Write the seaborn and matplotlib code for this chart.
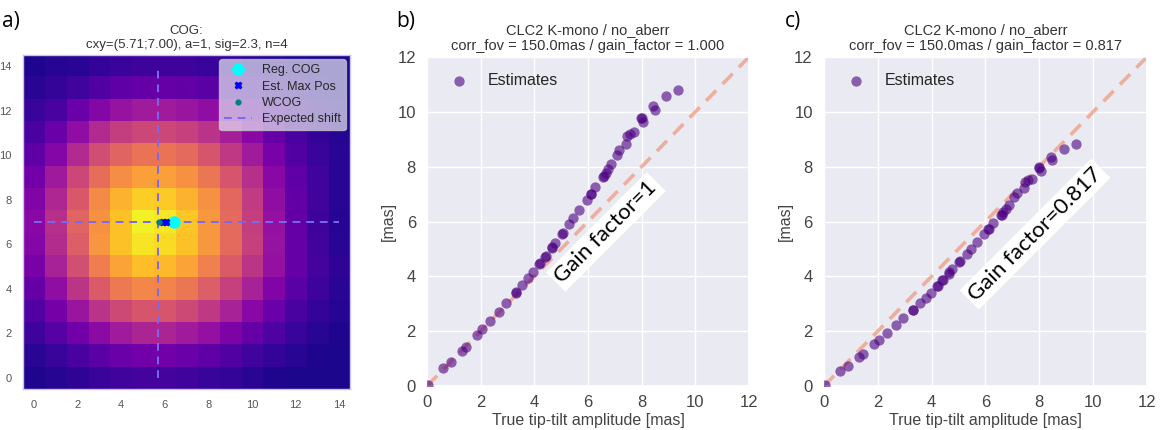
import numpy as np
import pandas as pd
import matplotlib
matplotlib.use("Agg")
import matplotlib.pyplot as plt
import seaborn as sns

# ---------------- data ----------------
# Panel a: 15x15 image (rows listed from y=0 at bottom to y=14 at top)
img_rows = [
    [0.03, 0.04, 0.06, 0.08, 0.10, 0.11, 0.11, 0.10, 0.08, 0.07, 0.05, 0.03, 0.02, 0.02, 0.02],
    [0.05, 0.08, 0.12, 0.16, 0.20, 0.22, 0.22, 0.20, 0.17, 0.14, 0.10, 0.07, 0.05, 0.03, 0.02],
    [0.09, 0.15, 0.22, 0.29, 0.35, 0.38, 0.38, 0.35, 0.31, 0.25, 0.19, 0.13, 0.08, 0.05, 0.03],
    [0.14, 0.23, 0.33, 0.43, 0.51, 0.55, 0.55, 0.51, 0.45, 0.37, 0.28, 0.20, 0.12, 0.07, 0.04],
    [0.19, 0.30, 0.44, 0.57, 0.67, 0.71, 0.70, 0.66, 0.58, 0.48, 0.37, 0.26, 0.16, 0.09, 0.05],
    [0.24, 0.37, 0.53, 0.68, 0.79, 0.86, 0.85, 0.79, 0.69, 0.57, 0.44, 0.31, 0.19, 0.11, 0.06],
    [0.27, 0.41, 0.58, 0.75, 0.87, 0.95, 0.93, 0.87, 0.76, 0.62, 0.48, 0.32, 0.19, 0.10, 0.05],
    [0.28, 0.42, 0.60, 0.74, 0.87, 0.98, 0.96, 0.88, 0.76, 0.62, 0.47, 0.31, 0.18, 0.09, 0.04],
    [0.26, 0.39, 0.56, 0.72, 0.83, 0.90, 0.89, 0.83, 0.74, 0.61, 0.46, 0.30, 0.18, 0.10, 0.05],
    [0.22, 0.34, 0.50, 0.63, 0.73, 0.78, 0.78, 0.74, 0.66, 0.55, 0.42, 0.28, 0.17, 0.10, 0.05],
    [0.17, 0.27, 0.40, 0.52, 0.60, 0.65, 0.65, 0.62, 0.55, 0.45, 0.35, 0.24, 0.14, 0.08, 0.05],
    [0.12, 0.20, 0.30, 0.40, 0.47, 0.50, 0.50, 0.48, 0.43, 0.36, 0.28, 0.19, 0.12, 0.07, 0.04],
    [0.08, 0.12, 0.20, 0.27, 0.32, 0.35, 0.35, 0.33, 0.30, 0.25, 0.20, 0.14, 0.09, 0.05, 0.03],
    [0.05, 0.07, 0.10, 0.14, 0.17, 0.19, 0.19, 0.18, 0.16, 0.13, 0.10, 0.07, 0.05, 0.03, 0.02],
    [0.03, 0.04, 0.05, 0.07, 0.08, 0.09, 0.09, 0.09, 0.08, 0.07, 0.05, 0.04, 0.03, 0.02, 0.02],
]
expected_shift = (5.71, 7.00)
shift_span = [0.0, 14.0]
reg_cog = (6.44, 7.00)
est_max_x = [5.92, 6.05]
est_max_y = [7.00, 7.00]
wcog = (5.74, 7.00)
title_a = "COG:\ncxy=(5.71;7.00), a=1, sig=2.3, n=4"

# Panels b and c: true amplitude vs estimate
true_amp = [0.02, 0.61, 0.89, 1.29, 1.44, 1.85, 2.04, 2.36, 2.68, 2.94, 3.30, 3.32,
            3.55, 3.78, 3.96, 4.19, 4.22, 4.40, 4.42, 4.65, 4.65, 4.77, 5.02, 5.05,
            5.30, 5.45, 5.68, 5.95, 6.11, 6.13, 6.27, 6.57, 6.60, 6.67, 6.76, 6.86,
            7.07, 7.17, 7.42, 7.47, 7.57, 7.73, 7.98, 8.00, 8.06, 8.44, 8.49, 8.90, 9.37]
est_b = [0.04, 0.65, 0.89, 1.28, 1.43, 1.86, 2.07, 2.37, 2.71, 3.02, 3.40, 3.42,
         3.68, 3.93, 4.15, 4.44, 4.47, 4.72, 4.74, 5.02, 5.08, 5.20, 5.54, 5.57,
         5.91, 6.12, 6.42, 6.78, 7.00, 7.02, 7.27, 7.61, 7.65, 7.76, 7.90, 8.10,
         8.42, 8.61, 8.83, 9.12, 9.18, 9.25, 9.76, 9.78, 9.62, 10.22, 10.07, 10.59, 10.80]
est_c = [0.03, 0.53, 0.73, 1.05, 1.17, 1.52, 1.69, 1.94, 2.21, 2.47, 2.78, 2.79,
         3.01, 3.21, 3.39, 3.63, 3.65, 3.86, 3.87, 4.10, 4.15, 4.25, 4.53, 4.55,
         4.83, 5.00, 5.25, 5.54, 5.72, 5.74, 5.94, 6.22, 6.25, 6.34, 6.45, 6.62,
         6.88, 7.03, 7.21, 7.45, 7.50, 7.56, 7.97, 7.99, 7.86, 8.35, 8.23, 8.65, 8.82]
diag = [0, 12]
titles_bc = ["CLC2 K-mono / no_aberr\ncorr_fov = 150.0mas / gain_factor = 1.000",
             "CLC2 K-mono / no_aberr\ncorr_fov = 150.0mas / gain_factor = 0.817"]
gain_labels = ["Gain factor=1", "Gain factor=0.817"]
gain_label_pos = [(6.67, 5.62), (7.84, 5.54)]
panel_letters = ["a)", "b)", "c)"]
ticks_a = [0, 2, 4, 6, 8, 10, 12, 14]
ticks_bc = [0, 2, 4, 6, 8, 10, 12]

# ---------------- style ----------------
sns.set_theme(style="darkgrid")
plt.rcParams["font.family"] = ["Liberation Sans", "DejaVu Sans"]

fig = plt.figure(figsize=(11.61, 4.30), dpi=100)

# ---------------- panel a ----------------
ax_a = fig.add_axes([0.0198, 0.0953, 0.2817, 0.777])
ax_a.imshow(np.array(img_rows), cmap="plasma", origin="lower", vmin=0, vmax=1,
            extent=(-0.5, 14.5, -0.5, 14.5), aspect="auto", interpolation="nearest")
ax_a.grid(False)
ax_a.plot([expected_shift[0]] * 2, shift_span, ls="--", color="mediumslateblue",
          lw=1.4, dashes=(4, 3), label="Expected shift", zorder=3)
ax_a.plot(shift_span, [expected_shift[1]] * 2, ls="--", color="mediumslateblue",
          lw=1.4, dashes=(4, 3), zorder=3)
ax_a.plot([reg_cog[0]], [reg_cog[1]], "o", color="cyan", ms=8, label="Reg. COG", zorder=4)
ax_a.plot(est_max_x, est_max_y, "X", color="blue", ms=5, ls="none", label="Est. Max Pos", zorder=5)
ax_a.plot([wcog[0]], [wcog[1]], "o", color="teal", ms=3.5, label="WCOG", zorder=6)
ax_a.set_xlim(-0.5, 14.5)
ax_a.set_ylim(-0.5, 14.5)
ax_a.set_xticks(ticks_a)
ax_a.set_yticks(ticks_a)
ax_a.tick_params(labelsize=8, colors="#555555", pad=2)
for s in ax_a.spines.values():
    s.set_visible(True)
    s.set_color("#c9c3ee")
    s.set_linewidth(1.0)
h, l = ax_a.get_legend_handles_labels()
order = [l.index(n) for n in ["Reg. COG", "Est. Max Pos", "WCOG", "Expected shift"]]
ax_a.legend([h[i] for i in order], [l[i] for i in order], loc="upper right",
            fontsize=9, framealpha=0.7, borderaxespad=0.35, handlelength=2.2,
            labelspacing=0.35)
ax_a.set_title(title_a, fontsize=9.5, color="#333333", pad=5)

# ---------------- panels b and c ----------------
positions = [[0.3678, 0.1023, 0.2773, 0.7651], [0.7097, 0.1023, 0.2782, 0.7651]]
est_sets = [est_b, est_c]
for k in range(2):
    ax = fig.add_axes(positions[k])
    df = pd.DataFrame({"true": true_amp, "est": est_sets[k]})
    sns.lineplot(x=diag, y=diag, ax=ax, color="#f0a088", alpha=0.8, lw=2.6,
                 dashes=False, zorder=1)
    ax.lines[-1].set_dashes((4, 2.5))
    sns.scatterplot(data=df, x="true", y="est", ax=ax, color="indigo", alpha=0.6,
                    s=55, linewidth=0, label="Estimates", zorder=3)
    ax.set_xlim(0, 12)
    ax.set_ylim(0, 12)
    ax.set_xticks(ticks_bc)
    ax.set_yticks(ticks_bc)
    ax.tick_params(axis="x", labelsize=12, colors="#444444", pad=0.5)
    ax.tick_params(axis="y", labelsize=12, colors="#444444", pad=2)
    ax.set_xlabel("True tip-tilt amplitude [mas]", fontsize=11.5, color="#444444", labelpad=2)
    ax.set_ylabel("[mas]", fontsize=11.5, color="#444444", labelpad=1)
    ax.set_title(titles_bc[k], fontsize=10.5, color="#333333", pad=5)
    ax.legend(loc="upper left", frameon=False, fontsize=11.5, borderaxespad=0.6,
              handletextpad=0.8, markerscale=1.0)
    ax.text(gain_label_pos[k][0], gain_label_pos[k][1], gain_labels[k], rotation=45,
            ha="center", va="center", rotation_mode="anchor", fontsize=16,
            family=["Lato", "DejaVu Sans"], color="black", zorder=5,
            bbox=dict(facecolor="white", edgecolor="none", pad=2.5))

# panel letters
letter_x = [0.002, 0.341, 0.676]
for lx, lt in zip(letter_x, panel_letters):
    fig.text(lx, 0.975, lt, fontsize=15, family=["Open Sans", "DejaVu Sans"],
             color="black", ha="left", va="top")

fig.savefig("out.png", dpi=100)
